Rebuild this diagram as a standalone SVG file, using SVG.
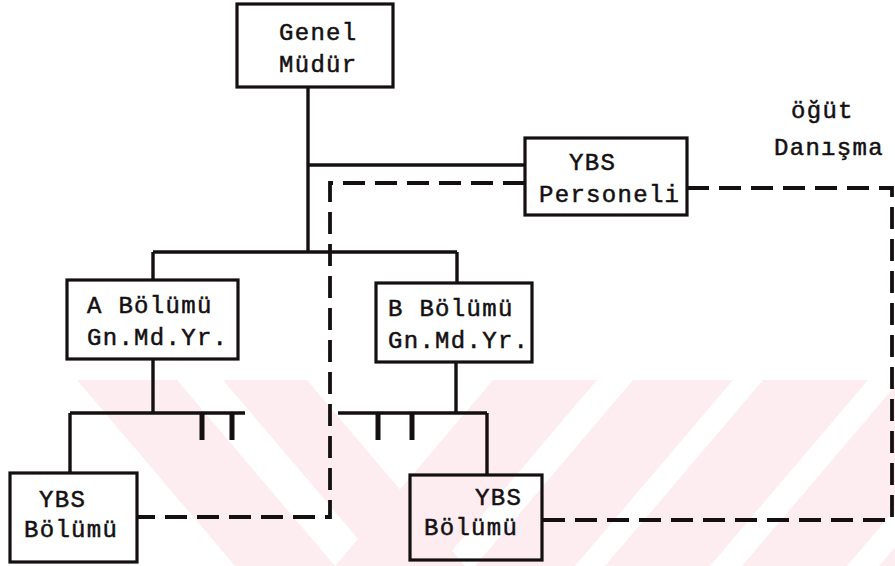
<svg xmlns="http://www.w3.org/2000/svg" width="895" height="566" viewBox="0 0 895 566">
<defs>
<style>
.box{fill:none;stroke:#141012;stroke-width:3.2}
.ln{fill:none;stroke:#141012;stroke-width:3.4}
.tick{fill:none;stroke:#141012;stroke-width:5}
.dash{fill:none;stroke:#141012;stroke-width:3.8;stroke-dasharray:22 10}
.t{font-family:"Liberation Mono","DejaVu Sans Mono",monospace;font-size:24px;letter-spacing:1.3px;fill:#141012;stroke:#141012;stroke-width:0.5}
.wm{fill:#fdedf0}
</style>
<clipPath id="wmclip"><rect x="0" y="380" width="895" height="186"/></clipPath>
</defs>
<rect width="895" height="566" fill="#ffffff"/>
<g id="watermark" clip-path="url(#wmclip)">
<polygon class="wm" points="77,380 177,380 335,566 235,566"/>
<polygon class="wm" points="223,380 307,380 465,566 381,566"/>
<polygon class="wm" points="493,380 597,380 439,566 335,566"/>
<polygon class="wm" points="633,380 733,380 575,566 475,566"/>
<polygon class="wm" points="763,380 868,380 710,566 605,566"/>
<polygon class="wm" points="900,380 1005,380 847,566 742,566"/>
<polygon class="wm" points="1037,380 1140,380 982,566 879,566"/>
</g>
<g id="connectors">
<path class="ln" d="M308,87 V252" stroke-width="4"/>
<path class="ln" d="M308,165 H525"/>
<path class="ln" d="M153,252 H457 M153,252 V280 M457,252 V283"/>
<path class="ln" d="M153,359 V413 M70,413 H245 M70,413 V473"/>
<path class="tick" d="M202,413 V440 M232,413 V440"/>
<path class="ln" d="M456,362 V413 M338,413 H487 M487,413 V475"/>
<path class="tick" d="M378,413 V440 M412,413 V440"/>
<path class="dash" d="M525,183 H330 V517 H137"/>
<path class="dash" d="M687,188 H892 V520 H542"/>
</g>
<g id="genel-mudur">
<rect class="box" x="237" y="4" width="156" height="83"/>
<text class="t" x="279" y="40">Genel</text>
<text class="t" x="279" y="72">Müdür</text>
</g>
<g id="ybs-personeli">
<rect class="box" x="525" y="138" width="162" height="77"/>
<text class="t" x="569" y="170">YBS</text>
<text class="t" x="539" y="202">Personeli</text>
</g>
<g id="a-bolumu">
<rect class="box" x="67" y="280" width="171" height="79"/>
<text class="t" x="87" y="313">A Bölümü</text>
<text class="t" x="87" y="345">Gn.Md.Yr.</text>
</g>
<g id="b-bolumu">
<rect class="box" x="376" y="283" width="156" height="79"/>
<text class="t" x="388" y="316">B Bölümü</text>
<text class="t" x="388" y="348">Gn.Md.Yr.</text>
</g>
<g id="ybs-bolumu-a">
<rect class="box" x="10" y="473" width="127" height="89"/>
<text class="t" x="39" y="507">YBS</text>
<text class="t" x="24" y="537">Bölümü</text>
</g>
<g id="ybs-bolumu-b">
<rect class="box" x="410" y="475" width="132" height="85"/>
<text class="t" x="475" y="505">YBS</text>
<text class="t" x="424" y="535">Bölümü</text>
</g>
<g id="labels">
<text class="t" x="791" y="118">öğüt</text>
<text class="t" x="774" y="155">Danışma</text>
</g>
</svg>
